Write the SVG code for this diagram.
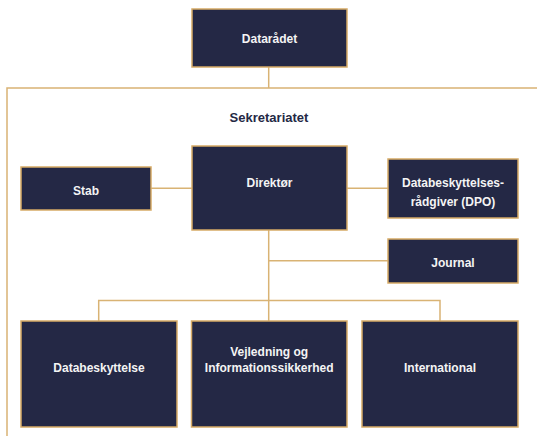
<svg xmlns="http://www.w3.org/2000/svg" width="537" height="436" viewBox="0 0 537 436">
<style>
.box{fill:#242845;stroke:#d6aa66;stroke-width:1.5}
.t{font-family:"Liberation Sans",Arial,sans-serif;font-weight:bold;font-size:12px;fill:#f4f4f4;text-anchor:middle}
.h{font-family:"Liberation Sans",Arial,sans-serif;font-weight:bold;font-size:13px;fill:#242845;text-anchor:middle}
.c{fill:none;stroke:#d9b374;stroke-width:1.5}
</style>
<rect width="537" height="436" fill="#ffffff"/>
<g id="connectors">
<path class="c" d="M268.7 67V88M7 436V88H537"/>
<path class="c" d="M151 188.3H192M347 188.3H388"/>
<path class="c" d="M268.7 230V300.5M268.7 260.7H388"/>
<path class="c" d="M98.7 321V300.5H440V321M268.7 300.5V321"/>
</g>
<g id="dataradet"><rect class="box" x="192" y="9" width="155" height="58"/><text class="t" x="269.5" y="43">Datarådet</text></g>
<text class="h" x="269" y="121.5">Sekretariatet</text>
<g id="direktor"><rect class="box" x="192" y="146" width="155" height="84"/><text class="t" x="269.5" y="186.5">Direktør</text></g>
<g id="stab"><rect class="box" x="21" y="167" width="130" height="43"/><text class="t" x="86" y="195">Stab</text></g>
<g id="dpo"><rect class="box" x="388" y="159" width="130" height="59"/><text class="t" x="453" y="187.3">Databeskyttelses-</text><text class="t" x="453" y="205.5">rådgiver (DPO)</text></g>
<g id="journal"><rect class="box" x="388" y="239" width="130" height="44"/><text class="t" x="453" y="266.5">Journal</text></g>
<g id="databeskyttelse"><rect class="box" x="21" y="321" width="156" height="106"/><text class="t" x="99" y="371.7">Databeskyttelse</text></g>
<g id="vejledning"><rect class="box" x="191.5" y="321" width="155.5" height="106"/><text class="t" x="269.2" y="355.7">Vejledning og</text><text class="t" x="269.2" y="371.7">Informationssikkerhed</text></g>
<g id="international"><rect class="box" x="362" y="321" width="156" height="106"/><text class="t" x="440" y="371.7">International</text></g>
</svg>
